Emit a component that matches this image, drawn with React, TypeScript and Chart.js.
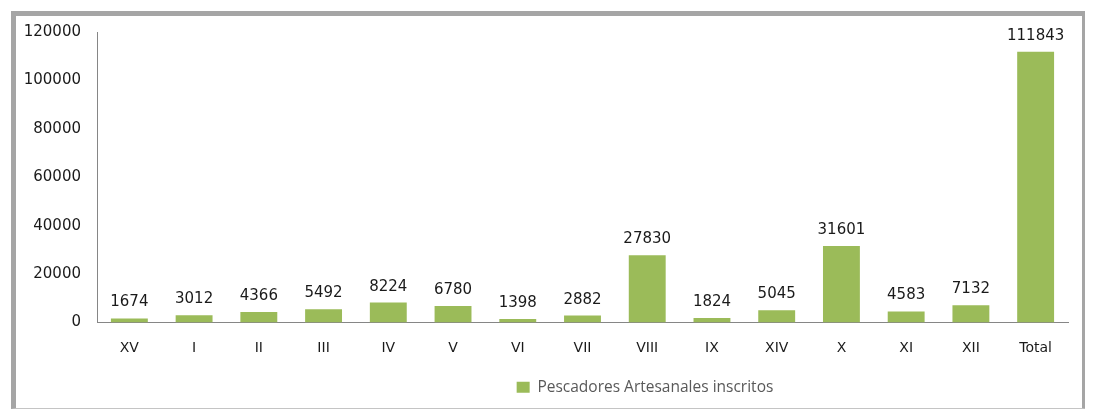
import { useEffect, useRef } from "react";
import { Chart, registerables } from "chart.js";

Chart.register(...registerables);

const categories = ["XV", "I", "II", "III", "IV", "V", "VI", "VII", "VIII", "IX", "XIV", "X", "XI", "XII", "Total"];
const pescadores = [1674, 3012, 4366, 5492, 8224, 6780, 1398, 2882, 27830, 1824, 5045, 31601, 4583, 7132, 111843];
const yTicks = [0, 20000, 40000, 60000, 80000, 100000, 120000];
const seriesLabel = "Pescadores Artesanales inscritos";

const BAR_COLOR = "#9bbb59";
const AXIS_COLOR = "#868686";
const TEXT_COLOR = "#1a1a1a";
const LEGEND_SHIFT = 103;

const valueLabels = {
  id: "valueLabels",
  afterDatasetsDraw(chart: any) {
    const ctx = chart.ctx;
    const meta = chart.getDatasetMeta(0);
    const values = chart.data.datasets[0].data;
    ctx.save();
    ctx.font = '15px "DejaVu Sans"';
    ctx.fillStyle = TEXT_COLOR;
    ctx.textAlign = "center";
    ctx.textBaseline = "alphabetic";
    meta.data.forEach((bar: any, i: number) => {
      ctx.fillText(String(values[i]), bar.x, bar.y - 12);
    });
    ctx.restore();
  },
};

const legendShift = {
  id: "legendShift",
  afterLayout(chart: any) {
    const l = chart.legend;
    if (l) {
      l.left += LEGEND_SHIFT;
      l.right += LEGEND_SHIFT;
    }
  },
};

export default function App() {
  const ref = useRef<HTMLCanvasElement>(null);
  useEffect(() => {
    if (!ref.current) return;
    const chart = new Chart(ref.current, {
      type: "bar",
      data: {
        labels: categories,
        datasets: [
          {
            label: seriesLabel,
            data: pescadores,
            backgroundColor: BAR_COLOR,
            borderColor: BAR_COLOR,
            borderWidth: 0,
            categoryPercentage: 1,
            barPercentage: 0.57,
          },
        ],
      },
      options: {
        animation: false,
        responsive: true,
        maintainAspectRatio: false,
        layout: { padding: { top: 16, right: 14, left: 0, bottom: 3 } },
        plugins: {
          tooltip: { enabled: false },
          legend: {
            position: "bottom",
            labels: {
              boxWidth: 13,
              boxHeight: 11,
              padding: 10,
              color: "#595959",
              font: { family: '"Open Sans"', size: 15.5 },
            },
          },
        },
        scales: {
          x: {
            grid: { display: false, drawTicks: false },
            border: { display: true, color: AXIS_COLOR, width: 1 },
            ticks: {
              autoSkip: false,
              maxRotation: 0,
              padding: 17,
              color: TEXT_COLOR,
              font: { family: '"DejaVu Sans"', size: 14 },
            },
            afterFit(scale: any) {
              scale.height = 47;
            },
          },
          y: {
            min: 0,
            max: 120000,
            grid: { display: false, drawTicks: false },
            border: { display: true, color: AXIS_COLOR, width: 1 },
            ticks: {
              padding: 16,
              color: TEXT_COLOR,
              font: { family: '"DejaVu Sans"', size: 15 },
              callback: (v: any) => String(v),
            },
            afterBuildTicks(scale: any) {
              scale.ticks = yTicks.map((v) => ({ value: v }));
            },
            afterFit(scale: any) {
              scale.width = 81;
              scale.paddingTop = 0;
              scale.paddingBottom = 0;
            },
          },
        },
      },
      plugins: [valueLabels, legendShift],
    });
    return () => chart.destroy();
  }, []);

  return (
    <div
      style={{
        margin: "3px 0 0 3px",
        width: 1077,
        height: 398,
        boxSizing: "border-box",
        borderStyle: "solid",
        borderColor: "#a5a5a5",
        borderBottomColor: "#c4c4c4",
        borderWidth: "5px 6px 1px 5px",
        background: "#fff",
      }}
    >
      <div style={{ position: "relative", width: 1066, height: 392 }}>
        <canvas ref={ref} />
      </div>
    </div>
  );
}
